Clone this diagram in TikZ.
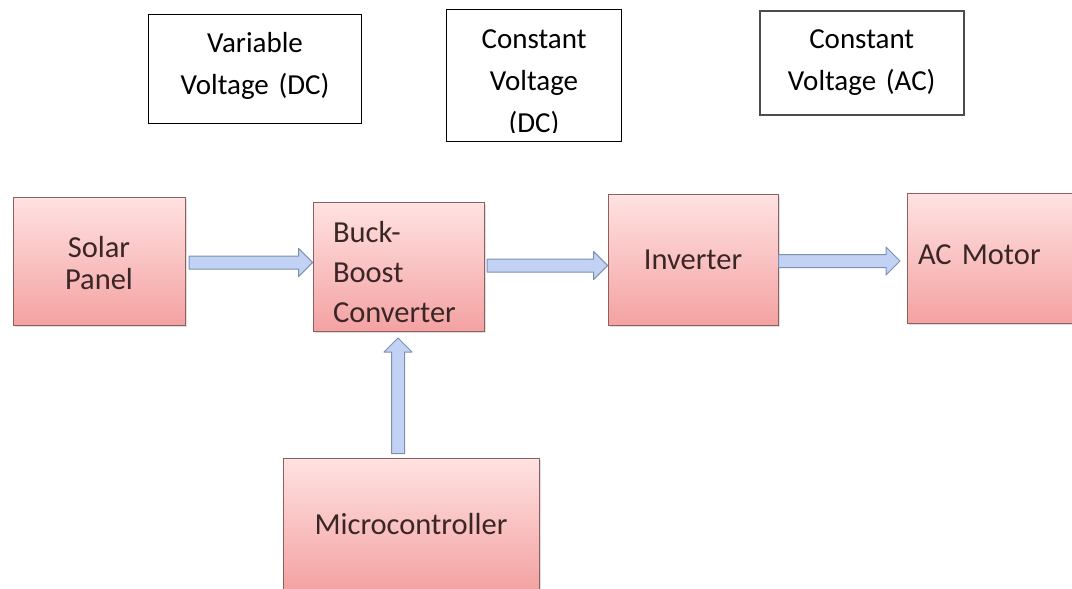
\documentclass[tikz,border=0pt]{standalone}
\usepackage{fontspec}
\setmainfont{Carlito}
\usetikzlibrary{calc,shadows}

\definecolor{boxtop}{HTML}{FFE2E2}
\definecolor{boxbot}{HTML}{F4A2A2}
\definecolor{boxline}{HTML}{8E5F5F}
\definecolor{boxtext}{HTML}{3A2626}
\definecolor{arrowfill}{HTML}{C2D2F4}
\definecolor{arrowline}{HTML}{7D90B2}

% Broad block arrow from #1 to #2: shaft 13pt wide, head 28pt wide and 14pt long
\newcommand\fatarrow[2]{%
  \path (#1) coordinate (fa-s) (#2) coordinate (fa-e);
  \filldraw[blockarrow]
    ($(fa-s)!6.5pt!90:(fa-e)$) --
    ($(fa-e)!14pt!(fa-s)!6.5pt!90:(fa-e)$) --
    ($(fa-e)!14pt!(fa-s)!14pt!90:(fa-e)$) --
    (fa-e) --
    ($(fa-e)!14pt!(fa-s)!14pt!-90:(fa-e)$) --
    ($(fa-e)!14pt!(fa-s)!6.5pt!-90:(fa-e)$) --
    ($(fa-s)!6.5pt!-90:(fa-e)$) -- cycle;
}

\begin{document}
\begin{tikzpicture}[x=1pt,y=-1pt,
  mbox/.style={draw=boxline, line width=0.9pt, top color=boxtop, bottom color=boxbot,
    text=boxtext, inner sep=0pt, align=center,
    font=\fontsize{30.5}{40}\selectfont,
    drop shadow={opacity=0.25, shadow xshift=1.5pt, shadow yshift=-1.5pt}},
  tbox/.style={draw=black, line width=1.1pt, fill=white, inner sep=0pt,
    align=center, anchor=north west, font=\fontsize{29}{42}\selectfont},
  blockarrow/.style={fill=arrowfill, draw=arrowline, line width=1pt, line join=round}]

\useasboundingbox (0,0) rectangle (1072,589);
\clip (0,0) rectangle (1072,589);
\fill[white] (0,0) rectangle (1072,589);

% voltage labels along the top
\node[tbox, text width=213] (t1) at (148,14)
  {\rule{0pt}{38pt}Variable\\Voltage (DC)\rule[-29pt]{0pt}{29pt}};
\node[tbox, text width=175] (t2) at (446,9)
  {\rule{0pt}{39pt}Constant\\Voltage\\(DC)\rule[-9pt]{0pt}{9pt}};
\fill[white] ($(t2.south west)+(0.8,-9)$) rectangle ($(t2.south east)+(-0.8,-0.7)$);
\node[tbox, text width=204, draw=black!70, line width=1.5pt] (t3) at (759,10)
  {\rule{0pt}{38pt}Constant\\Voltage (AC)\rule[-24pt]{0pt}{24pt}};

% system blocks
\node[mbox, minimum width=172, minimum height=128, font=\fontsize{30.5}{32}\selectfont]
  (sp) at (99,261) {\rule{0pt}{26pt}Solar\\Panel};
\node[mbox, minimum width=171, minimum height=129, text width=131, align=left]
  (bb) at (398.5,266.5) {\rule{0pt}{33pt}Buck-\\Boost\\Converter};
\node[mbox, minimum width=170, minimum height=131] (inv) at (693,259.5) {Inverter};
\node[mbox, minimum width=198, minimum height=130, text width=176, align=left]
  (acm) at (1006,258) {\rule[-7pt]{0pt}{7pt}AC Motor};
\node[mbox, minimum width=256, minimum height=132] (mc) at (411,524) {Microcontroller};

% power and control flow
\coordinate (a1s) at (189,262.5);
\coordinate (a1e) at (bb.west |- a1s);
\fatarrow{a1s}{a1e}

\coordinate (a2s) at (487,265.5);
\coordinate (a2e) at (inv.west |- a2s);
\fatarrow{a2s}{a2e}

\coordinate (a3s) at (778.5,261);
\coordinate (a3e) at (900,261);
\fatarrow{a3s}{a3e}

\coordinate (a4s) at (398,453.5);
\coordinate (a4e) at (398,338);
\fatarrow{a4s}{a4e}

\end{tikzpicture}
\end{document}
